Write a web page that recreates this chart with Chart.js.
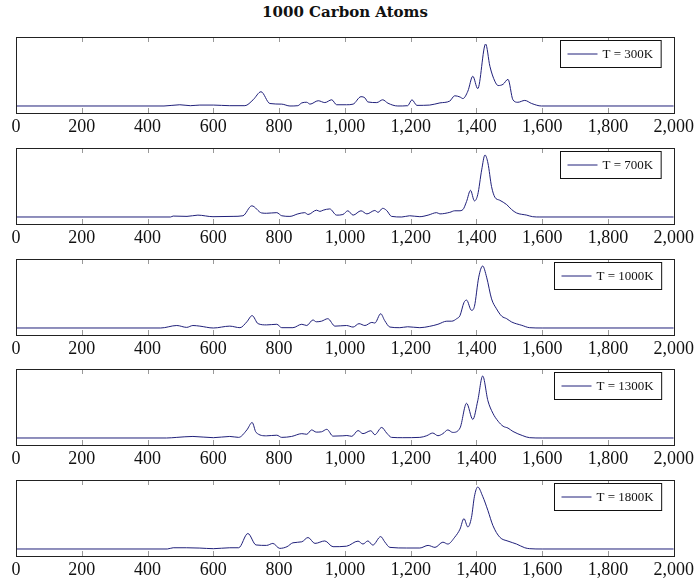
<!DOCTYPE html>
<html>
<head>
<meta charset="utf-8">
<script src="https://cdn.jsdelivr.net/npm/chart.js@4"></script>
<style>
  body { margin: 0; background: #fff; }
  #wrap { position: relative; width: 697px; height: 585px; }
  #title {
    position: absolute; left: 0; top: 3px; width: 690px; text-align: center;
    font-family: "DejaVu Serif", serif; font-weight: bold; font-size: 15px; line-height: 18px; color: #111;
  }
  canvas { position: absolute; left: 0; }
</style>
</head>
<body>
<div id="wrap">
  <div id="title">1000 Carbon Atoms</div>
</div>
<script>
// spectra (wavenumber, relative intensity)
const x300 = [0, 450, 498, 530, 559, 600, 650, 696, 721, 745, 772, 808, 833, 857, 869, 884, 894, 919, 939, 960, 975, 1005, 1025, 1049, 1061, 1070, 1097, 1115, 1131, 1161, 1191, 1204, 1219, 1258, 1289, 1319, 1334, 1350, 1359, 1374, 1389, 1404, 1428, 1441, 1456, 1466, 1481, 1496, 1511, 1526, 1547, 1568, 1598, 2000];
const y300 = [0, 0, 0.02, 0.005, 0.015, 0.015, 0.005, 0.005, 0.1, 0.23, 0.04, 0.03, 0.0, 0.005, 0.05, 0.06, 0.03, 0.085, 0.055, 0.1, 0.02, 0.02, 0.03, 0.15, 0.13, 0.065, 0.055, 0.1, 0.045, 0.0, 0.005, 0.1, 0.01, 0.015, 0.05, 0.08, 0.165, 0.145, 0.12, 0.24, 0.48, 0.28, 1.0, 0.64, 0.40, 0.33, 0.35, 0.43, 0.10, 0.06, 0.09, 0.04, 0, 0];

const x700 = [0, 470, 478, 520, 553, 599, 660, 690, 717, 747, 762, 793, 808, 833, 857, 878, 888, 914, 924, 934, 954, 975, 994, 1009, 1025, 1049, 1067, 1091, 1101, 1115, 1127, 1142, 1173, 1197, 1228, 1253, 1279, 1289, 1319, 1334, 1347, 1359, 1370, 1382, 1394, 1404, 1416, 1426, 1435, 1446, 1456, 1471, 1492, 1507, 1522, 1553, 1571, 1593, 2000];
const y700 = [0, 0, 0.015, 0.01, 0.03, 0.005, 0.01, 0.02, 0.18, 0.065, 0.06, 0.07, 0.02, 0.01, 0.05, 0.07, 0.04, 0.11, 0.09, 0.11, 0.13, 0.03, 0.04, 0.10, 0.03, 0.10, 0.05, 0.105, 0.075, 0.14, 0.105, 0.01, 0.0, 0.02, 0.005, 0.03, 0.07, 0.05, 0.075, 0.1, 0.1, 0.12, 0.25, 0.43, 0.26, 0.36, 0.76, 1.0, 0.87, 0.49, 0.32, 0.27, 0.20, 0.12, 0.065, 0.03, 0.005, 0, 0];

const x1000 = [0, 440, 489, 519, 538, 559, 600, 650, 681, 702, 718, 736, 762, 793, 808, 842, 869, 884, 903, 913, 929, 948, 970, 1005, 1025, 1043, 1061, 1082, 1091, 1109, 1121, 1137, 1167, 1191, 1228, 1258, 1283, 1310, 1325, 1340, 1350, 1362, 1370, 1385, 1394, 1407, 1419, 1431, 1446, 1461, 1477, 1492, 1507, 1538, 1562, 1600, 2000];
const y1000 = [0, 0, 0.04, 0.01, 0.04, 0.03, 0.0, 0.03, 0.005, 0.1, 0.2, 0.07, 0.05, 0.06, 0.005, 0.005, 0.06, 0.04, 0.13, 0.1, 0.11, 0.15, 0.03, 0.04, 0.015, 0.07, 0.04, 0.09, 0.08, 0.23, 0.12, 0.015, 0.005, 0.02, 0.005, 0.027, 0.06, 0.11, 0.11, 0.15, 0.2, 0.41, 0.45, 0.285, 0.35, 0.82, 1.0, 0.82, 0.47, 0.31, 0.19, 0.15, 0.097, 0.043, 0.005, 0, 0];

const x1300 = [0, 458, 489, 538, 600, 650, 677, 702, 718, 730, 762, 793, 808, 838, 869, 884, 899, 913, 929, 945, 964, 994, 1006, 1021, 1040, 1055, 1079, 1091, 1112, 1127, 1142, 1176, 1228, 1249, 1267, 1283, 1298, 1313, 1328, 1350, 1370, 1389, 1404, 1419, 1435, 1450, 1466, 1481, 1496, 1511, 1541, 1562, 1600, 2000];
const y1300 = [0, 0, 0.01, 0.025, 0.005, 0.025, 0.01, 0.13, 0.25, 0.09, 0.035, 0.045, 0.01, 0.025, 0.07, 0.06, 0.13, 0.095, 0.1, 0.14, 0.03, 0.035, 0.04, 0.027, 0.12, 0.07, 0.117, 0.053, 0.17, 0.08, 0.01, 0.005, 0.01, 0.037, 0.08, 0.037, 0.07, 0.13, 0.09, 0.16, 0.56, 0.3, 0.6, 1.0, 0.6, 0.4, 0.27, 0.19, 0.16, 0.106, 0.037, 0.005, 0, 0];

const x1800 = [0, 460, 478, 519, 559, 600, 650, 677, 705, 730, 762, 781, 802, 824, 842, 869, 888, 909, 939, 964, 1005, 1040, 1055, 1070, 1085, 1109, 1121, 1137, 1188, 1228, 1253, 1274, 1298, 1313, 1334, 1350, 1362, 1374, 1385, 1394, 1404, 1419, 1435, 1450, 1471, 1496, 1522, 1547, 1562, 1600, 2000];
const y1800 = [0, 0, 0.02, 0.02, 0.015, 0.005, 0.02, 0.02, 0.25, 0.065, 0.058, 0.09, 0.01, 0.037, 0.1, 0.116, 0.185, 0.09, 0.13, 0.037, 0.045, 0.127, 0.08, 0.13, 0.063, 0.2, 0.116, 0.026, 0.016, 0.016, 0.058, 0.026, 0.11, 0.08, 0.19, 0.32, 0.49, 0.355, 0.51, 0.85, 1.0, 0.85, 0.62, 0.38, 0.19, 0.127, 0.08, 0.02, 0.005, 0, 0];

const labels = ['T = 300K', 'T = 700K', 'T = 1000K', 'T = 1300K', 'T = 1800K'];
const xs = [x300, x700, x1000, x1300, x1800];
const ys = [y300, y700, y1000, y1300, y1800];
const panelTops = [37, 148, 259, 369, 480];

const lineColor = 'rgb(32, 32, 122)';

// box, inner ticks and legend, pgfplots style
const framePlugin = {
    id: 'frame',
    afterDatasetsDraw(chart) {
        const { ctx, chartArea: a, scales } = chart;
        ctx.save();
        ctx.strokeStyle = '#999';
        ctx.lineWidth = 1;
        scales.x.ticks.forEach(t => {
            if (t.value <= 0 || t.value >= 2000) return;
            const px = Math.round(scales.x.getPixelForValue(t.value)) + 0.5;
            ctx.beginPath();
            ctx.moveTo(px, a.top); ctx.lineTo(px, a.top + 5);
            ctx.moveTo(px, a.bottom); ctx.lineTo(px, a.bottom - 5);
            ctx.stroke();
        });
        ctx.strokeStyle = '#222';
        ctx.strokeRect(Math.round(a.left) + 0.5, Math.round(a.top) + 0.5, Math.round(a.right - a.left), Math.round(a.bottom - a.top));

        // legend
        const text = chart.data.datasets[0].label;
        ctx.font = '13px "Liberation Serif"';
        const tw = ctx.measureText(text).width;
        const w = 7 + 30 + 5 + tw + 8, h = 27;
        const bx = Math.round(a.right - 13 - w) + 0.5, by = Math.round(a.top + 3) + 0.5;
        ctx.fillStyle = '#fff';
        ctx.fillRect(bx, by, w, h);
        ctx.strokeStyle = '#111';
        ctx.strokeRect(bx, by, w, h);
        ctx.strokeStyle = lineColor;
        ctx.beginPath();
        ctx.moveTo(bx + 7, by + h / 2); ctx.lineTo(bx + 37, by + h / 2);
        ctx.stroke();
        ctx.fillStyle = '#111';
        ctx.textBaseline = 'middle';
        ctx.fillText(text, bx + 42, by + h / 2 + 1);
        ctx.restore();
    }
};

const wrap = document.getElementById('wrap');

panelTops.forEach((top, i) => {
    const canvas = document.createElement('canvas');
    canvas.width = 697;
    canvas.height = 5 + 76 + 26;
    canvas.style.top = (top - 5) + 'px';
    wrap.appendChild(canvas);

    new Chart(canvas, {
        type: 'line',
        data: {
            datasets: [{
                label: labels[i],
                data: xs[i].map((x, k) => ({ x: x, y: ys[i][k] })),
                borderColor: lineColor,
                borderWidth: 1,
                pointRadius: 0,
                fill: false,
                cubicInterpolationMode: 'monotone'
            }]
        },
        options: {
            responsive: false,
            animation: false,
            layout: { padding: { left: 16, right: 23, top: 5, bottom: 0 } },
            scales: {
                x: {
                    type: 'linear',
                    min: 0,
                    max: 2000,
                    afterFit: s => { s.height = 26; },
                    grid: { display: false, drawTicks: false },
                    border: { display: false },
                    ticks: {
                        stepSize: 200,
                        padding: 3,
                        maxRotation: 0,
                        autoSkip: false,
                        color: '#111',
                        font: { family: '"Liberation Serif", serif', size: 18 },
                        callback: v => v.toLocaleString('en-US')
                    }
                },
                y: {
                    display: false,
                    min: -0.113,
                    max: 1.113
                }
            },
            plugins: {
                legend: { display: false },
                tooltip: { enabled: false }
            }
        },
        plugins: [framePlugin]
    });
});
</script>
</body>
</html>
